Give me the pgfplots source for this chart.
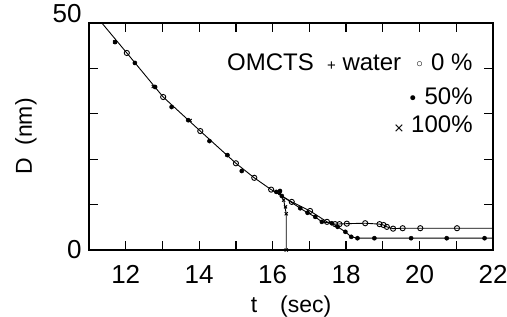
\documentclass[border=0pt]{standalone}
\usepackage{fontspec}
\setmainfont{Liberation Sans}
\newfontfamily\dejavu{DejaVu Sans}
\usepackage{pgfplots}
\pgfplotsset{compat=1.18}
\pgfplotstableread{
t D
12.03 43.4
13.02 33.7
14.03 26.2
15.0 19.1
15.5 15.9
15.96 13.3
16.52 10.6
17.02 8.6
17.48 6.2
17.7 5.7
17.82 5.7
18.02 5.8
18.52 5.9
18.91 5.7
19.02 5.5
19.11 5.1
19.28 4.7
19.54 4.8
20.02 4.8
21.02 4.8
}\openpts
\pgfplotstableread{
t D
11.71 45.8
12.25 41.2
12.8 35.9
13.25 31.5
13.7 28.6
14.28 24.0
14.77 20.9
15.16 17.4
16.1 12.8
16.2 13.0
16.25 11.9
16.75 9.2
16.95 8.2
17.16 7.3
17.34 6.2
17.61 5.9
17.77 5.1
17.98 4.0
18.14 2.9
18.31 2.6
18.77 2.6
19.77 2.6
20.74 2.6
21.77 2.6
}\filledpts
\pgfplotstableread{
t D
11.7 45.8
12.75 36.0
13.75 28.5
14.75 21.0
16.2 12.5
16.3 11.0
16.35 9.5
16.37 8.0
16.37 0.0
}\crosspts
\begin{document}
\begin{tikzpicture}
\begin{axis}[
  width=404pt, height=227pt, scale only axis,
  xmin=11, xmax=22, ymin=0, ymax=50,
  xtick={12,14,...,22}, minor xtick={13,15,...,21},
  ytick={0,10,...,40}, yticklabels={0,{},{},{},{}},
  extra y ticks={50}, extra y tick labels={50},
  extra y tick style={yticklabel style={yshift=9pt}},
  tick align=inside, major tick length=9pt, minor tick length=9pt,
  every tick/.style={black, line width=1.2pt},
  axis line style={line width=1.6pt},
  tick label style={font=\fontsize{26}{30}\selectfont},
  /pgf/number format/assume math mode=true,
  xticklabel shift=12pt, yticklabel shift=4pt,
  xlabel={t\quad(sec)}, ylabel={D\ \ (nm)},
  xlabel shift=5pt, ylabel shift=5pt,
  label style={font=\fontsize{23}{27}\selectfont},
  clip=true,
]
% main curve line (open series) from top-left to right edge
\addplot[black, line width=0.9pt, no marks] coordinates {
(11.35,50) (12.03,43.4) (13.02,33.7) (14.03,26.2) (15.0,19.1) (15.5,15.9) (15.96,13.3) (16.52,10.6) (17.02,8.6) (17.48,6.2) (17.7,5.7) (18.02,5.8) (18.52,5.9) (18.91,5.7) (19.02,5.5) (19.11,5.1) (19.28,4.7) (19.54,4.8) (20.02,4.8) (21.02,4.8) (22,4.8)};
% filled series branch line
\addplot[black, line width=0.9pt, no marks] coordinates {
(16.1,12.8) (16.25,11.9) (16.75,9.2) (16.95,8.2) (17.16,7.3) (17.34,6.2) (17.61,5.9) (17.77,5.1) (17.98,4.0) (18.14,2.9) (18.31,2.6) (18.77,2.6) (19.77,2.6) (20.74,2.6) (21.77,2.6) (22,2.6)};
% 100% vertical drop
\addplot[black, line width=0.9pt, no marks] coordinates {(16.2,12.5) (16.3,11.0) (16.37,8.0) (16.37,0)};
\addplot[only marks, mark=*, mark size=2.1pt, black] table {\filledpts};
\addplot[only marks, mark=x, mark size=2.2pt, black, line width=0.9pt] table {\crosspts};
\addplot[only marks, mark=o, mark size=2.6pt, black, mark options={fill=white, line width=0.9pt}] table {\openpts};
\node[anchor=east, font=\fontsize{24}{28}\selectfont, inner sep=0pt] at (axis cs:21.45,41.4)
  {OMCTS\ \ {\fontsize{15}{16}\selectfont+} water\ \ {\dejavu\fontsize{17}{18}\selectfont ◦} 0 \%};
\node[anchor=east, font=\fontsize{24}{28}\selectfont, inner sep=0pt] at (axis cs:21.45,33.9)
  {{\dejavu\fontsize{17}{18}\selectfont •} 50\%};
\node[anchor=east, font=\fontsize{24}{28}\selectfont, inner sep=0pt] at (axis cs:21.45,27.8)
  {{\dejavu\fontsize{13}{14}\selectfont ×} 100\%};
\end{axis}
\pgfresetboundingbox
\path ([shift={(-89pt,-66pt)}]current axis.south west) rectangle ([shift={(14pt,23pt)}]current axis.north east);
\end{tikzpicture}
\end{document}
